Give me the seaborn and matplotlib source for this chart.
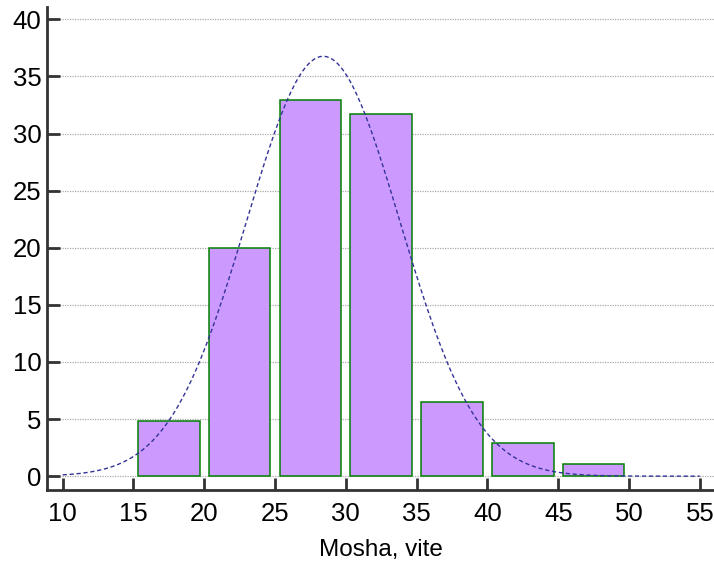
import numpy as np
import pandas as pd
import matplotlib
matplotlib.use("Agg")
import matplotlib.pyplot as plt
import seaborn as sns

# Dati: istogramma dell'eta (percentuali per classe di 5 anni)
bin_edges = [15, 20, 25, 30, 35, 40, 45, 50]
percentuali = [4.8, 20.0, 32.9, 31.7, 6.5, 2.9, 1.1]
x_ticks = [10, 15, 20, 25, 30, 35, 40, 45, 50, 55]
y_ticks = [0, 5, 10, 15, 20, 25, 30, 35, 40]

# curva normale adattata (media e deviazione standard)
media = 28.4
dev_std = 5.42

sns.set_style("white")
plt.rcParams['font.family'] = ['Liberation Sans', 'DejaVu Sans']
plt.rcParams['text.color'] = 'black'
plt.rcParams['axes.labelcolor'] = 'black'

centri = [(a + b) / 2 for a, b in zip(bin_edges[:-1], bin_edges[1:])]
df = pd.DataFrame({"eta": centri, "perc": percentuali})

fig = plt.figure(figsize=(7.14, 5.67), dpi=100)
ax = fig.add_axes([0.066, 0.136, 0.934, 0.852])

for y in y_ticks:
    ax.axhline(y, color="#aaaaaa", linestyle=(0, (1, 1)), linewidth=0.9, zorder=0)

sns.histplot(data=df, x="eta", weights="perc", bins=bin_edges, shrink=0.87,
             color="#cc99ff", edgecolor="#008000", linewidth=1.1, alpha=1,
             ax=ax, zorder=2)

xs = np.linspace(10, 55, 300)
passo = bin_edges[1] - bin_edges[0]
ys = sum(percentuali) * passo / (dev_std * np.sqrt(2 * np.pi)) * np.exp(-0.5 * ((xs - media) / dev_std) ** 2)
sns.lineplot(x=xs, y=ys, color="#333399", linestyle=(0, (3, 2)), linewidth=1.0, ax=ax, zorder=3)

ax.set_xlim(8.9, 56.0)
ax.set_ylim(-1.2, 41.1)
ax.set_xticks(x_ticks)
ax.set_yticks(y_ticks)
ax.tick_params(bottom=True, left=True, direction="in", length=9, width=2,
               color="#333333", labelcolor="black", labelsize=18.5)
ax.tick_params(axis="x", pad=9)
ax.tick_params(axis="y", pad=4)
for s in ["top", "right"]:
    ax.spines[s].set_visible(False)
for s in ["left", "bottom"]:
    ax.spines[s].set_color("#333333")
    ax.spines[s].set_linewidth(2)
ax.set_xlabel("Mosha, vite", fontsize=17.5, labelpad=9)
ax.set_ylabel("")

fig.savefig("out.png", dpi=100)
